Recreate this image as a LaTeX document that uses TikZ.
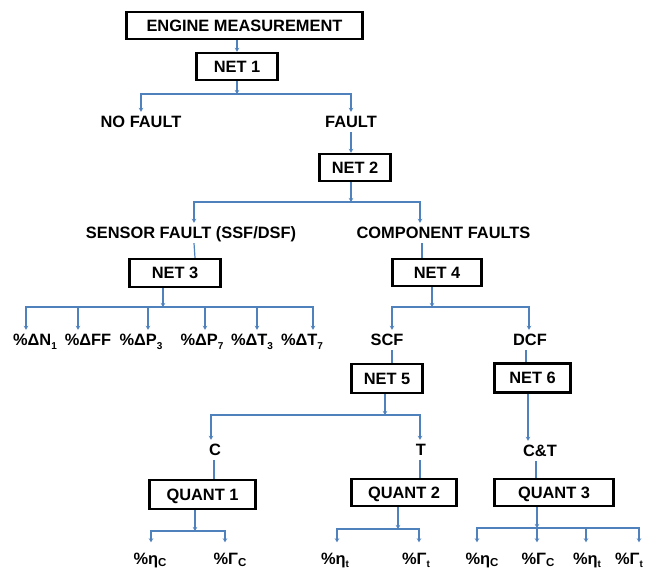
\documentclass[tikz,border=0pt]{standalone}
\usepackage{fontspec}
\setmainfont{Liberation Sans}
\usetikzlibrary{arrows.meta}
\definecolor{lineblue}{RGB}{79,129,189}
\newcommand{\sbs}[1]{\raisebox{-0.35ex}{\fontsize{10}{10}\selectfont #1}}
\newcommand{\sbl}[1]{\raisebox{-0.3ex}{\fontsize{11.5}{11.5}\selectfont #1}}
\begin{document}
\begin{tikzpicture}[x=1pt,y=-1pt,
  every node/.style={font=\fontsize{16.4}{18}\selectfont\bfseries},
  box/.style={draw=black,line width=2.4pt,inner sep=0pt,align=center,text height=12pt,text depth=0pt},
  lbl/.style={inner xsep=0pt,inner ysep=4pt,text height=12pt,text depth=0pt},
  lblb/.style={lbl,inner ysep=9.5pt},
  ln/.style={draw=lineblue,line width=1.2pt},
  arr/.style={ln,-{Stealth[length=4pt,width=4.5pt]}}]
\useasboundingbox (0,0) rectangle (646,569);
\clip (0,0) rectangle (646,569);
% boxes
\node[box,minimum width=236pt,minimum height=27pt] (em) at (244.5,25.5) {ENGINE MEASUREMENT};
\node[box,minimum width=81pt,minimum height=27pt] (net1) at (237,66.5) {NET 1};
\node[box,minimum width=71pt,minimum height=27pt] (net2) at (355,167.5) {NET 2};
\node[box,minimum width=91pt,minimum height=28pt] (net3) at (175,273) {NET 3};
\node[box,minimum width=89pt,minimum height=27pt] (net4) at (437,272.5) {NET 4};
\node[box,minimum width=71pt,minimum height=29pt] (net5) at (387,378.5) {NET 5};
\node[box,minimum width=76pt,minimum height=29pt] (net6) at (532.5,378) {NET 6};
\node[box,minimum width=106pt,minimum height=29pt] (q1) at (202.5,494.5) {QUANT 1};
\node[box,minimum width=105pt,minimum height=27pt] (q2) at (404,492.5) {QUANT 2};
\node[box,minimum width=119pt,minimum height=27pt] (q3) at (554,492.5) {QUANT 3};
% labels
\node[lbl] (nofault) at (141,122) {NO FAULT};
\node[lbl] (fault) at (351,122) {FAULT};
\node[lbl] (sensor) at (191,233) {SENSOR FAULT (SSF/DSF)};
\node[lbl] (comp) at (443.5,233) {COMPONENT FAULTS};
\node[lbl] (dn1) at (35,340) {\%ΔN\sbs{1}};
\node[lbl] (dff) at (88,340) {\%ΔFF};
\node[lbl] (dp3) at (141,340) {\%ΔP\sbs{3}};
\node[lbl] (dp7) at (202,340) {\%ΔP\sbs{7}};
\node[lbl] (dt3) at (252,340) {\%ΔT\sbs{3}};
\node[lbl] (dt7) at (302,340) {\%ΔT\sbs{7}};
\node[lbl] (scf) at (387,340) {SCF};
\node[lbl] (dcf) at (530,340) {DCF};
\node[lbl] (c) at (215,450) {C};
\node[lbl] (t) at (421,450) {T};
\node[lbl] (ct) at (540,451) {C\&T};
\node[lblb] (ha) at (150,558) {\%η\sbl{C}};
\node[lblb] (ga) at (230,558) {\%Γ\sbl{C}};
\node[lblb] (hb) at (335,558) {\%η\sbs{t}};
\node[lblb] (gb) at (416,558) {\%Γ\sbs{t}};
\node[lblb] (hc) at (482,558) {\%η\sbl{C}};
\node[lblb] (gc) at (538,558) {\%Γ\sbl{C}};
\node[lblb] (hd) at (587,558) {\%η\sbs{t}};
\node[lblb] (gd) at (629,558) {\%Γ\sbs{t}};
% junctions
\coordinate (j1) at (237,94);
\coordinate (j2) at (351,202);
\coordinate (j3) at (163,307);
\coordinate (j4) at (432,307);
\coordinate (j5) at (385,415);
\coordinate (j6) at (195,531);
\coordinate (j7) at (398,529);
\coordinate (j8) at (537,528);
% connectors
\draw[arr] (em.south -| net1) -- (net1.north);
\draw[arr] (net1.south) -- (j1);
\draw[arr] (j1) -| (nofault.north);
\draw[arr] (j1) -| (fault.north);
\draw[arr] (fault.south) -- (fault.south |- net2.north);
\draw[arr] (net2.south -| j2) -- (j2);
\draw[arr] (j2) -| ([xshift=3pt]sensor.north);
\draw[arr] (j2) -| ([xshift=-23.5pt]comp.north);
\draw[ln] ([xshift=3pt]sensor.south) -- ([xshift=4pt]sensor.south |- net3.north);
\draw[ln] ([xshift=-21.5pt]comp.south) -- ([xshift=-21.5pt]comp.south |- net4.north);
\draw[arr] (net3.south -| j3) -- (j3);
\draw[arr] (j3) -| ([xshift=-9pt]dn1.north);
\draw[arr] (j3) -| ([xshift=-10pt]dff.north);
\draw[arr] (j3) -| ([xshift=7pt]dp3.north);
\draw[arr] (j3) -| ([xshift=3pt]dp7.north);
\draw[arr] (j3) -| ([xshift=5pt]dt3.north);
\draw[arr] (j3) -| ([xshift=11pt]dt7.north);
\draw[arr] (net4.south -| j4) -- (j4);
\draw[arr] (j4) -| ([xshift=5pt]scf.north);
\draw[arr] (j4) -| ([xshift=-1pt]dcf.north);
\draw[ln] ([xshift=5pt]scf.south) -- ([xshift=5pt]scf.south |- net5.north);
\draw[ln] ([xshift=-4pt]dcf.south) -- ([xshift=-4pt]dcf.south |- net6.north);
\draw[arr] (net5.south -| j5) -- (j5);
\draw[arr] (j5) -| ([xshift=-4pt]c.north);
\draw[arr] (j5) -| ([xshift=-1pt]t.north);
\draw[ln] ([xshift=-1pt]c.south) -- ([xshift=-1pt]c.south |- q1.north);
\draw[ln] ([xshift=-1pt]t.south) -- ([xshift=-1pt]t.south |- q2.north);
\draw[arr] ([xshift=-12pt]ct.north |- net6.south) -- ([xshift=-12pt]ct.north);
\draw[ln] ([xshift=-4pt]ct.south) -- ([xshift=-4pt]ct.south |- q3.north);
\draw[arr] (q1.south -| j6) -- (j6);
\draw[arr] (j6) -| ([xshift=1pt]ha.north);
\draw[arr] (j6) -| ([xshift=-5pt]ga.north);
\draw[arr] (q2.south -| j7) -- (j7);
\draw[arr] (j7) -| ([xshift=2pt]hb.north);
\draw[arr] (j7) -| ([xshift=3pt]gb.north);
\draw[arr] (q3.south -| j8) -- (j8);
\draw[arr] (j8) -| ([xshift=-5pt]hc.north);
\draw[arr] (j8) -| ([xshift=-1pt]gc.north);
\draw[arr] (j8) -| ([xshift=-1pt]hd.north);
\draw[arr] (j8) -| ([xshift=10pt]gd.north);
\end{tikzpicture}
\end{document}
